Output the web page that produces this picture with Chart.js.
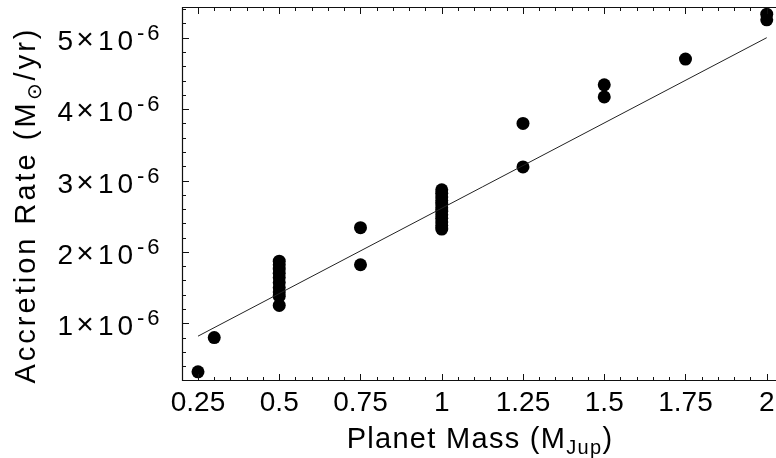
<!DOCTYPE html>
<html>
  <head>
    <script src="https://cdn.jsdelivr.net/npm/chart.js"></script>
    <style>
      body { margin: 0; background: #fff; overflow: hidden; }
      canvas { display: block; }
    </style>
  </head>
  <body>
    <canvas id="rate-chart" width="776" height="458"></canvas>
    <script>
      // planet mass (M_Jup) and accretion rate (M_sun/yr), one entry per run
      var mass = [0.25, 0.3,
        0.5, 0.5, 0.5, 0.5, 0.5, 0.5, 0.5, 0.5, 0.5, 0.5,
        0.75, 0.75,
        1, 1, 1, 1, 1, 1, 1, 1, 1, 1, 1, 1,
        1.25, 1.25, 1.5, 1.5, 1.75, 2, 2];
      var rate = [0.32e-6, 0.80e-6,
        1.87e-6, 1.82e-6, 1.76e-6, 1.70e-6, 1.64e-6, 1.57e-6, 1.50e-6, 1.44e-6, 1.38e-6, 1.25e-6,
        2.34e-6, 1.82e-6,
        2.87e-6, 2.82e-6, 2.77e-6, 2.72e-6, 2.67e-6, 2.62e-6, 2.57e-6, 2.52e-6, 2.47e-6, 2.42e-6, 2.37e-6, 2.32e-6,
        3.80e-6, 3.19e-6, 4.34e-6, 4.17e-6, 4.70e-6, 5.33e-6, 5.25e-6];

      // straight-line fit
      var fitMass = [0.25, 2];
      var fitRate = [0.82e-6, 5.0e-6];

      var xTicks = [0.25, 0.5, 0.75, 1, 1.25, 1.5, 1.75, 2];
      var xTickLabels = ['0.25', '0.5', '0.75', '1', '1.25', '1.5', '1.75', '2'];
      var yTicks = [1e-6, 2e-6, 3e-6, 4e-6, 5e-6];
      var yTickLabels = ['1', '2', '3', '4', '5']; // times 10^-6

      var FONT = '"Liberation Sans", Arial, Helvetica, sans-serif';

      // frame with inward ticks, tick labels, axis titles with sub/superscripts
      var framePlugin = {
        id: 'frame',
        afterDraw: function(chart) {
          var ctx = chart.ctx, a = chart.chartArea;
          var xs = chart.scales.x, ys = chart.scales.y;
          ctx.save();
          ctx.strokeStyle = '#111';
          ctx.lineWidth = 1.2;
          ctx.beginPath();
          ctx.moveTo(a.right, a.top + 0.5);
          ctx.lineTo(a.left + 0.5, a.top + 0.5);
          ctx.lineTo(a.left + 0.5, a.bottom - 0.5);
          ctx.lineTo(a.right, a.bottom - 0.5);
          ctx.stroke();

          ctx.lineWidth = 1;
          ctx.beginPath();
          var v, p, len;
          for (var i = Math.ceil(xs.min / 0.05); i * 0.05 <= xs.max; i++) {
            v = i * 0.05;
            p = Math.round(xs.getPixelForValue(v)) + 0.5;
            len = (i % 5 === 0) ? 7 : 4;
            ctx.moveTo(p, a.bottom); ctx.lineTo(p, a.bottom - len);
            ctx.moveTo(p, a.top); ctx.lineTo(p, a.top + len);
          }
          for (var j = Math.ceil(ys.min / 0.2e-6); j * 0.2e-6 <= ys.max; j++) {
            v = j * 0.2e-6;
            p = Math.round(ys.getPixelForValue(v)) + 0.5;
            len = (j % 5 === 0) ? 7 : 4;
            ctx.moveTo(a.left, p); ctx.lineTo(a.left + len, p);
          }
          ctx.stroke();

          ctx.fillStyle = '#000';
          ctx.textBaseline = 'alphabetic';

          // x tick labels
          ctx.font = '28px ' + FONT;
          ctx.textAlign = 'center';
          xTicks.forEach(function(t, k) {
            ctx.fillText(xTickLabels[k], xs.getPixelForValue(t), 411);
          });

          // y tick labels: "n × 10^-6"
          yTicks.forEach(function(t, k) {
            var y = ys.getPixelForValue(t);
            ctx.letterSpacing = '0px';
            ctx.font = '28px ' + FONT;
            ctx.textAlign = 'right';
            ctx.fillText(yTickLabels[k], 73, y + 12);
            ctx.textAlign = 'center';
            ctx.font = '30px ' + FONT;
            ctx.fillText('\u00d7', 85, y + 11);
            ctx.font = '28px ' + FONT;
            ctx.textAlign = 'left';
            ctx.letterSpacing = '4px';
            ctx.fillText('10', 98, y + 12);
            ctx.letterSpacing = '3px';
            ctx.font = '22px ' + FONT;
            ctx.fillText('-6', 137, y + 2);
            ctx.letterSpacing = '0px';
          });

          // x title
          var big = '29px ' + FONT, small = '20px ' + FONT;
          var parts = [['Planet Mass (M', big, 0], ['Jup', small, 6], [')', big, 0]];
          drawParts(ctx, parts, 480, 448, 1.3);

          // y title, rotated
          ctx.save();
          ctx.translate(35, 205);
          ctx.rotate(-Math.PI / 2);
          var yparts = [['Accretion Rate (M', big, 0], ['\u2299', small, 6], ['/yr)', big, 0]];
          drawParts(ctx, yparts, 0, 0, 3.0);
          ctx.restore();
          ctx.restore();
        }
      };

      function drawParts(ctx, parts, cx, base, spacing) {
        ctx.letterSpacing = spacing + 'px';
        var total = 0;
        parts.forEach(function(pt) { ctx.font = pt[1]; total += ctx.measureText(pt[0]).width; });
        var x = cx - total / 2;
        ctx.textAlign = 'left';
        parts.forEach(function(pt) {
          ctx.font = pt[1];
          ctx.fillText(pt[0], x, base + pt[2]);
          x += ctx.measureText(pt[0]).width;
        });
        ctx.letterSpacing = '0px';
      }

      var points = mass.map(function(m, i) { return { x: m, y: rate[i] }; });
      var fit = fitMass.map(function(m, i) { return { x: m, y: fitRate[i] }; });

      var ctx = document.getElementById('rate-chart').getContext('2d');
      var rateChart = new Chart(ctx, {
        type: 'scatter',
        data: {
          datasets: [{
            label: 'Fit',
            data: fit,
            showLine: true,
            borderColor: '#222',
            borderWidth: 1,
            pointRadius: 0,
          }, {
            label: 'Runs',
            data: points,
            pointRadius: 6.5,
            backgroundColor: '#000',
            borderWidth: 0,
            clip: 10,
          }]
        },
        options: {
          responsive: false,
          animation: false,
          layout: { autoPadding: false, padding: { top: 7, right: 0, left: 0, bottom: 0 } },
          plugins: { legend: { display: false }, tooltip: { enabled: false } },
          scales: {
            x: {
              type: 'linear',
              min: 0.2008,
              max: 2.0285,
              afterBuildTicks: function(s) { s.ticks = xTicks.map(function(v) { return { value: v }; }); },
              afterFit: function(s) { s.height = 77; },
              grid: { display: false, drawTicks: false },
              border: { display: false },
              ticks: { display: false }
            },
            y: {
              type: 'linear',
              min: 0.192e-6,
              max: 5.43e-6,
              afterBuildTicks: function(s) { s.ticks = yTicks.map(function(v) { return { value: v }; }); },
              afterFit: function(s) { s.width = 182; },
              grid: { display: false, drawTicks: false },
              border: { display: false },
              ticks: { display: false }
            }
          }
        },
        plugins: [framePlugin]
      });
    </script>
  </body>
</html>
